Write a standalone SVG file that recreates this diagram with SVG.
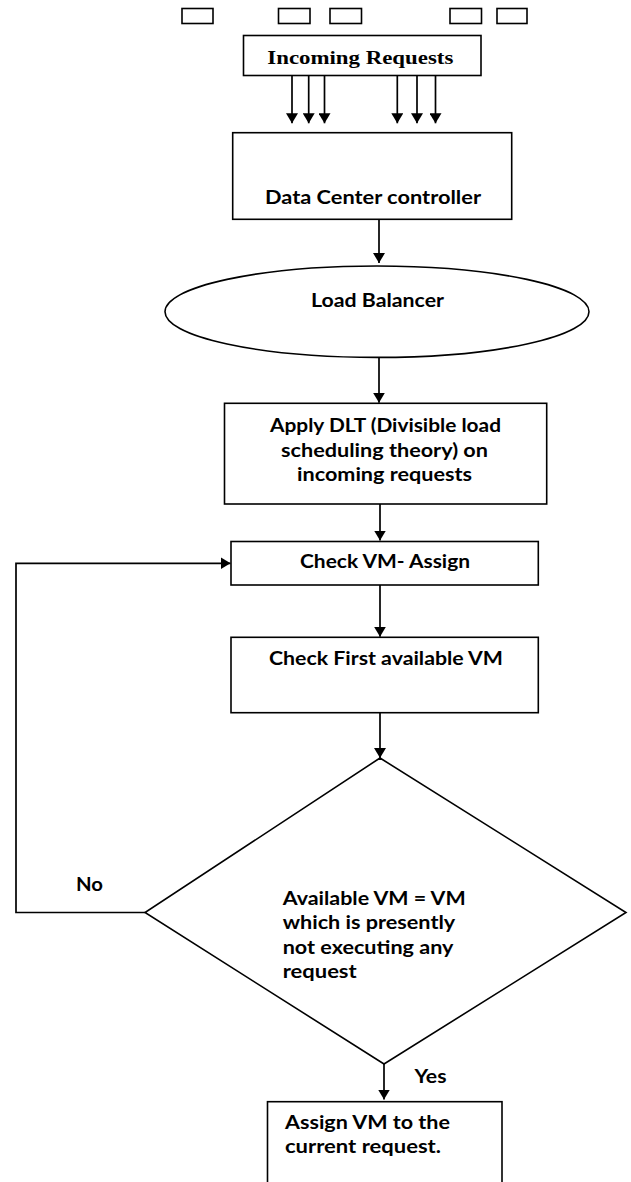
<svg xmlns="http://www.w3.org/2000/svg" width="631" height="1182" viewBox="0 0 631 1182">
<style>
.box{fill:#fff;stroke:#000;stroke-width:1.6}
.ln{fill:none;stroke:#000;stroke-width:1.7}
.t{font-family:Lato,"Open Sans","Liberation Sans",sans-serif;font-weight:700;font-size:18px;fill:#000}
.tt{font-family:"Liberation Serif","Times New Roman",serif;font-weight:700;font-size:19px;fill:#000}
</style>
<defs>
<marker id="arr" markerUnits="userSpaceOnUse" viewBox="0 0 10 12" markerWidth="10" markerHeight="12" refX="10" refY="6" orient="auto">
<path d="M0,0 L10,6 L0,12 z" fill="#000"/>
</marker>
</defs>
<rect width="631" height="1182" fill="#fff"/>

<g id="queue">
<rect class="box" x="182" y="8.5" width="31" height="15"/>
<rect class="box" x="278.5" y="8.5" width="31.5" height="15"/>
<rect class="box" x="330" y="8.5" width="31.5" height="15"/>
<rect class="box" x="450" y="8.5" width="31.5" height="15"/>
<rect class="box" x="497" y="8.5" width="30" height="15"/>
</g>

<g id="incoming">
<rect class="box" x="243.5" y="35.5" width="237.5" height="40"/>
<text class="tt" x="267.3" y="64" textLength="186" lengthAdjust="spacingAndGlyphs">Incoming Requests</text>
</g>

<g id="dcc">
<rect class="box" x="232.7" y="132.7" width="279" height="86.6"/>
<text class="t" x="265" y="204" textLength="216" lengthAdjust="spacingAndGlyphs">Data Center controller</text>
</g>

<g id="lb">
<ellipse class="box" cx="377" cy="311.7" rx="212" ry="45.7"/>
<text class="t" x="311" y="306.5" textLength="133" lengthAdjust="spacingAndGlyphs">Load Balancer</text>
</g>

<g id="dlt">
<rect class="box" x="224.5" y="403.3" width="322.2" height="100.7"/>
<text class="t" x="270" y="432" textLength="231" lengthAdjust="spacingAndGlyphs">Apply DLT (Divisible load</text>
<text class="t" x="281" y="457" textLength="207" lengthAdjust="spacingAndGlyphs">scheduling theory) on</text>
<text class="t" x="297" y="481" textLength="175" lengthAdjust="spacingAndGlyphs">incoming requests</text>
</g>

<g id="checkvm">
<rect class="box" x="231" y="541.5" width="307.3" height="43.5"/>
<text class="t" x="300" y="568" textLength="170" lengthAdjust="spacingAndGlyphs">Check VM- Assign</text>
</g>

<g id="checkfirst">
<rect class="box" x="231" y="637.3" width="307.3" height="75.4"/>
<text class="t" x="269" y="665" textLength="234" lengthAdjust="spacingAndGlyphs">Check First available VM</text>
</g>

<g id="decision">
<polygon class="box" points="380,758 626,912.5 384,1064 145,912.5"/>
<text class="t" x="282.7" y="905" textLength="183" lengthAdjust="spacingAndGlyphs">Available VM = VM</text>
<text class="t" x="282.7" y="929" textLength="172.5" lengthAdjust="spacingAndGlyphs">which is presently</text>
<text class="t" x="282.7" y="953.5" textLength="170.7" lengthAdjust="spacingAndGlyphs">not executing any</text>
<text class="t" x="282.7" y="978" textLength="74" lengthAdjust="spacingAndGlyphs">request</text>
</g>

<g id="assign">
<rect class="box" x="267.5" y="1101.7" width="234.5" height="100"/>
<text class="t" x="285" y="1128.7" textLength="165" lengthAdjust="spacingAndGlyphs">Assign VM to the</text>
<text class="t" x="285" y="1153.3" textLength="156" lengthAdjust="spacingAndGlyphs">current request.</text>
</g>

<g id="connectors">
<line class="ln" x1="292" y1="75.5" x2="292" y2="123.3" marker-end="url(#arr)"/>
<line class="ln" x1="308.7" y1="75.5" x2="308.7" y2="123.3" marker-end="url(#arr)"/>
<line class="ln" x1="324.5" y1="75.5" x2="324.5" y2="123.3" marker-end="url(#arr)"/>
<line class="ln" x1="397.3" y1="75.5" x2="397.3" y2="123.3" marker-end="url(#arr)"/>
<line class="ln" x1="417" y1="75.5" x2="417" y2="123.3" marker-end="url(#arr)"/>
<line class="ln" x1="435.5" y1="75.5" x2="435.5" y2="123.3" marker-end="url(#arr)"/>
<line class="ln" x1="379" y1="219.3" x2="379" y2="263" marker-end="url(#arr)"/>
<line class="ln" x1="379" y1="357.4" x2="379" y2="402.7" marker-end="url(#arr)"/>
<line class="ln" x1="380" y1="504" x2="380" y2="540.5" marker-end="url(#arr)"/>
<line class="ln" x1="380" y1="585" x2="380" y2="636.7" marker-end="url(#arr)"/>
<line class="ln" x1="380" y1="712.7" x2="380" y2="758" marker-end="url(#arr)"/>
<line class="ln" x1="384" y1="1064" x2="384" y2="1099.5" marker-end="url(#arr)"/>
<polyline class="ln" points="145,912.5 16,912.5 16,563.3 230.5,563.3" marker-end="url(#arr)"/>
<text class="t" x="76" y="890.5" textLength="27" lengthAdjust="spacingAndGlyphs">No</text>
<text class="t" x="414.5" y="1083" textLength="32" lengthAdjust="spacingAndGlyphs">Yes</text>
</g>
</svg>
